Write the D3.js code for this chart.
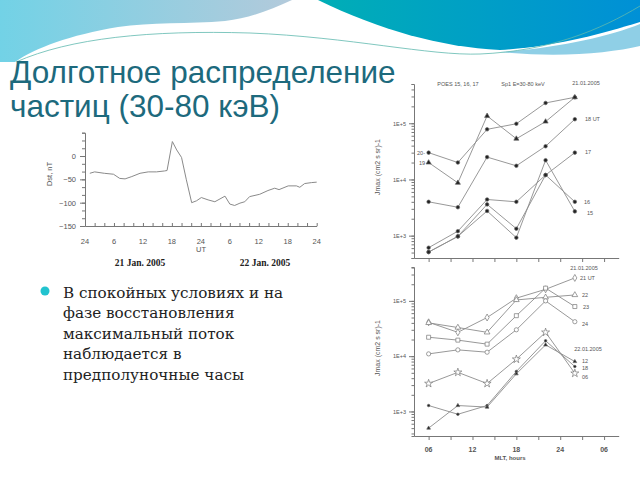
<!DOCTYPE html>
<html lang="ru">
<head>
<meta charset="UTF-8">
<title>Долготное распределение частиц</title>
<script src="https://d3js.org/d3.v7.min.js"></script>
<style>
  body { margin: 0; background: #fff; }
  .tiny { font-family: "Liberation Sans", Arial, sans-serif; fill: #555; }
</style>
</head>
<body>
<svg id="slide" width="640" height="480"></svg>
<script>
// ---- data ----
// Dst index, 21-22 Jan 2005 (hours since 00 UT of 21 Jan)
const dstHours  = [1, 2, 4, 5.9, 7.2, 8.3, 9.7, 11.4, 13.1, 14.8, 16.5, 17, 18.1, 19, 20, 21, 22.1, 23.1, 24.1, 25.5, 26.9, 29, 30, 31, 32.1, 33.1, 34.1, 36.2, 37.9, 39.3, 40.2, 42.1, 43.8, 44.5, 45.5, 46.9, 48];
const dstValues = [-37, -34, -37, -39, -48, -49, -44, -37, -34, -34, -32, -31, 31, 13, -3, -51, -100, -96, -89, -94, -98, -86, -103, -106, -101, -98, -87, -82, -74, -69, -72, -64, -64, -67, -59, -57, -56];
const dstTicks  = [0, 6, 12, 18, 24, 30, 36, 42, 48];
const dstTickLabels = ["24", "6", "12", "18", "24", "6", "12", "18", "24"];
const dstYTicks = [0, -50, -100, -150];

// MLT sectors of the POES passes
const mlt = [6, 10, 14, 18, 22, 26];
const mltTicks = [6, 12, 18, 24, 30];
const mltTickLabels = ["06", "12", "18", "24", "06"];

// upper panel, 21.01.2005 (hours UT)
const up20 = [3.0e4, 2.0e4, 7.8e4, 9.8e4, 2.3e5, 2.9e5];
const up19 = [2.0e4, 8.7e3, 1.35e5, 5.3e4, 1.07e5, 2.9e5];
const up18 = [4.0e3, 3.2e3, 2.5e4, 1.75e4, 3.9e4, 1.18e5];
const up17 = [6.1e2, 1.2e3, 4.4e3, 4.0e3, 1.2e4, 3.0e4];
const up16 = [5.1e2, 9.7e2, 3.6e3, 1.33e3, 1.2e4, 4.0e3];
const up15 = [5.1e2, 9.7e2, 2.75e3, 9.2e2, 2.2e4, 2.7e3];

// lower panel, 21.01.2005 and 22.01.2005
const lo21 = [4.1e4, 2.7e4, 5.0e4, 1.12e5, 1.62e5, 2.6e5];
const lo22 = [4.0e4, 3.3e4, 2.7e4, 1.04e5, 1.16e5, 1.28e5];
const lo23 = [2.2e4, 1.95e4, 1.65e4, 5.4e4, 1.7e5, 7.9e4];
const lo24 = [1.1e4, 1.3e4, 1.18e4, 3.0e4, 1.0e5, 4.2e4];
const lo06 = [3.2e3, 5.1e3, 3.2e3, 8.8e3, 2.7e4, 4.9e3];
const lo18 = [1.28e3, 8.9e2, 1.28e3, 5.3e3, 1.9e4, 6.5e3];
const lo12 = [5.0e2, 1.28e3, 1.2e3, 4.8e3, 1.6e4, 8.0e3];

const bulletLines = ["В спокойных условиях и на", "фазе восстановления", "максимальный поток", "наблюдается в", "предполуночные часы"];

const svg = d3.select("#slide");

// ---- slide background / header waves ----
const defs = svg.append("defs");
const g1 = defs.append("linearGradient").attr("id", "lightBlue");
g1.append("stop").attr("offset", "0%").attr("stop-color", "#72d2e6");
g1.append("stop").attr("offset", "100%").attr("stop-color", "#b3cadb");
const g2 = defs.append("linearGradient").attr("id", "darkBlue");
g2.append("stop").attr("offset", "0%").attr("stop-color", "#00aeb6");
g2.append("stop").attr("offset", "100%").attr("stop-color", "#0090d6");

svg.append("rect").attr("width", 640).attr("height", 480).attr("fill", "#fff");
svg.append("path").attr("fill", "url(#lightBlue)")
  .attr("d", "M0,0 H292 C270,10 250,18 225,21 C190,24 150,22 118,27 C70,35 35,48 15,62 H0 Z");
svg.append("path").attr("fill", "url(#darkBlue)")
  .attr("d", "M318,0 H640 V22 C600,34 560,46 500,50 C440,47 380,30 318,0 Z");
svg.append("path").attr("fill", "#8fcfe6")
  .attr("d", "M500,52 C560,48 610,36 640,24 V46 C610,53 560,58 500,52 Z");
svg.append("path").attr("fill", "none").attr("stroke", "#5fb9ae").attr("stroke-width", 0.8)
  .attr("d", "M16,62 C70,38 150,30 250,33 C350,37 430,56 480,54 C550,51 600,30 640,6");

// ---- title ----
const title = svg.append("text")
  .attr("font-family", "'Liberation Sans', Arial, sans-serif")
  .attr("fill", "#1d6a7d").attr("font-size", 31.5);
title.append("tspan").attr("x", 10).attr("y", 83).text("Долготное распределение");
title.append("tspan").attr("x", 10).attr("y", 117).text("частиц (30-80 кэВ)");

// ---- bullet ----
svg.append("circle").attr("cx", 45).attr("cy", 291).attr("r", 4.5).attr("fill", "#22c3cf");
svg.append("text")
  .attr("font-family", "'DejaVu Serif', serif").attr("font-size", 15.2).attr("fill", "#222")
  .selectAll("tspan").data(bulletLines).join("tspan")
  .attr("x", 63).attr("y", (d, i) => 297.5 + i * 20.5).text(d => d);

// ---- Dst chart ----
const dx = d3.scaleLinear().domain([0, 48]).range([85, 316.7]);
const dy = d3.scaleLinear().domain([-150, 50]).range([226, 132.7]);
const dst = svg.append("g");

dst.append("g").attr("transform", "translate(0,226)")
  .call(d3.axisBottom(dx).tickValues(d3.range(0, 49, 2)).tickSizeInner(-3).tickSizeOuter(0).tickFormat(""))
  .call(g => g.selectAll("line,path").attr("stroke", "#777"));
dst.append("g").attr("transform", "translate(85,0)")
  .call(d3.axisLeft(dy).tickValues(d3.range(-150, 51, 50 / 3)).tickSize(3).tickFormat(""))
  .call(g => g.selectAll("line,path").attr("stroke", "#777"));
dst.append("g").attr("transform", "translate(85,0)")
  .call(d3.axisLeft(dy).tickValues(dstYTicks).tickSize(5).tickPadding(4))
  .call(g => g.select(".domain").remove())
  .call(g => g.selectAll("line").attr("stroke", "#777"))
  .call(g => g.selectAll("text").attr("class", "tiny").attr("font-size", 7.5).attr("fill", "#555"));

dst.selectAll(".xl").data(dstTicks).join("text").attr("class", "tiny")
  .attr("x", d => dx(d)).attr("y", 244).attr("text-anchor", "middle").attr("font-size", 7.5)
  .text((d, i) => dstTickLabels[i]);
dst.append("text").attr("class", "tiny").attr("x", 201).attr("y", 252)
  .attr("text-anchor", "middle").attr("font-size", 7.5).text("UT");
dst.append("text").attr("class", "tiny").attr("font-size", 7.5).attr("text-anchor", "middle")
  .attr("transform", "translate(52,174) rotate(-90)").text("Dst, nT");
dst.selectAll(".dl").data(["21 Jan. 2005", "22 Jan. 2005"]).join("text")
  .attr("x", (d, i) => i ? 265 : 140).attr("y", 266).attr("text-anchor", "middle")
  .attr("font-family", "'Liberation Serif', serif").attr("font-weight", "bold")
  .attr("font-size", 9.5).attr("fill", "#222").text(d => d);

dst.append("path").datum(dstHours.map((h, i) => [h, dstValues[i]]))
  .attr("fill", "none").attr("stroke", "#8a8a8a").attr("stroke-width", 1)
  .attr("d", d3.line().x(d => dx(d[0])).y(d => dy(d[1])));

// ---- POES panels ----
const mx = d3.scaleLinear().domain([4, 32]).range([414, 618.7]);
const yUp = d3.scaleLog().domain([400, 5e5]).range([258, 84]);
const yLo = d3.scaleLog().domain([360, 4.1e5]).range([436, 267]);

function minorTicks(dom) {
  const out = [];
  for (let e = 2; e <= 5; e++) for (let m = 1; m <= 9; m++) {
    const v = m * Math.pow(10, e);
    if (v >= dom[0] && v <= dom[1]) out.push(v);
  }
  return out;
}

function logAxis(y) {
  const g = svg.append("g").attr("transform", "translate(414,0)");
  g.call(d3.axisLeft(y).tickValues(minorTicks(y.domain())).tickSize(2.5).tickFormat(""));
  g.append("g").call(d3.axisLeft(y).tickValues([1e3, 1e4, 1e5]).tickSize(5).tickPadding(3)
    .tickFormat(d => "1E+" + Math.round(Math.log10(d))))
    .call(a => a.select(".domain").remove());
  g.selectAll("line,path").attr("stroke", "#777");
  g.selectAll("text").attr("class", "tiny").attr("font-size", 5.5).attr("fill", "#555");
}
logAxis(yUp);
logAxis(yLo);

svg.append("g").attr("transform", "translate(0,258)")
  .call(d3.axisBottom(mx).tickValues(d3.range(6, 31, 3)).tickSizeInner(4).tickSizeOuter(0).tickFormat(""))
  .call(g => g.selectAll("line,path").attr("stroke", "#777"));
svg.append("g").attr("transform", "translate(0,436)")
  .call(d3.axisBottom(mx).tickValues(d3.range(6, 31, 3)).tickSizeInner(4).tickSizeOuter(0).tickFormat(""))
  .call(g => g.selectAll("line,path").attr("stroke", "#777"));

svg.selectAll(".mxl").data(mltTicks).join("text").attr("class", "tiny")
  .attr("x", d => mx(d)).attr("y", 452).attr("text-anchor", "middle")
  .attr("font-size", 7).attr("font-weight", "bold").attr("fill", "#444")
  .text((d, i) => mltTickLabels[i]);
svg.append("text").attr("class", "tiny").attr("x", 510).attr("y", 460).attr("text-anchor", "middle")
  .attr("font-size", 6).attr("font-weight", "bold").attr("fill", "#444").text("MLT, hours");

[[167, "Jmax (cm2 s sr)-1"], [348, "Jmax  (cm2 s sr)-1"]].forEach(([cy, t]) => {
  svg.append("text").attr("class", "tiny").attr("font-size", 7).attr("text-anchor", "middle")
    .attr("transform", `translate(380,${cy}) rotate(-90)`).text(t);
});

function series(y, vals, sym, size, filled) {
  const pts = vals.map((v, i) => [mx(mlt[i]), y(v)]);
  svg.append("path").datum(pts).attr("fill", "none").attr("stroke", "#8c8c8c").attr("stroke-width", 0.9)
    .attr("d", d3.line());
  svg.append("g").selectAll("path").data(pts).join("path")
    .attr("transform", d => `translate(${d[0]},${d[1]})`)
    .attr("d", d3.symbol().type(sym).size(size))
    .attr("fill", filled ? "#222" : "#fff")
    .attr("stroke", filled ? "#666" : "#777").attr("stroke-width", 0.7);
}

series(yUp, up20, d3.symbolCircle, 10, true);
series(yUp, up19, d3.symbolTriangle, 11, true);
series(yUp, up18, d3.symbolCircle, 10, true);
series(yUp, up17, d3.symbolCircle, 10, true);
series(yUp, up16, d3.symbolCircle, 10, true);
series(yUp, up15, d3.symbolCircle, 10, true);

series(yLo, lo21, d3.symbolDiamond, 14, false);
series(yLo, lo22, d3.symbolTriangle, 14, false);
series(yLo, lo23, d3.symbolSquare, 16, false);
series(yLo, lo24, d3.symbolCircle, 14, false);
series(yLo, lo06, d3.symbolStar, 20, false);
series(yLo, lo18, d3.symbolCircle, 5, true);
series(yLo, lo12, d3.symbolTriangle, 6, true);

// panel annotations
const notes = [
  [458, 86, "POES 15, 16, 17", "middle"], [523, 86, "Sp1 E=30-80 keV", "middle"], [586, 85, "21.01.2005", "middle"],
  [425, 155, "20-", "end"], [425, 165, "19", "end"],
  [585, 121, "18 UT", "start"], [585, 154, "17", "start"], [584, 204, "16", "start"], [587, 215, "15", "start"],
  [584, 270, "21.01.2005", "middle"], [580, 280, "21 UT", "start"], [582, 297, "22", "start"],
  [583, 309, "23", "start"], [582, 326, "24", "start"], [588, 351, "22.01.2005", "middle"],
  [582, 363, "12", "start"], [582, 370, "18", "start"], [582, 379, "06", "start"]
];
svg.selectAll(".note").data(notes).join("text").attr("class", "tiny")
  .attr("x", d => d[0]).attr("y", d => d[1]).attr("text-anchor", d => d[3])
  .attr("font-size", 5.5).text(d => d[2]);
</script>
</body>
</html>
